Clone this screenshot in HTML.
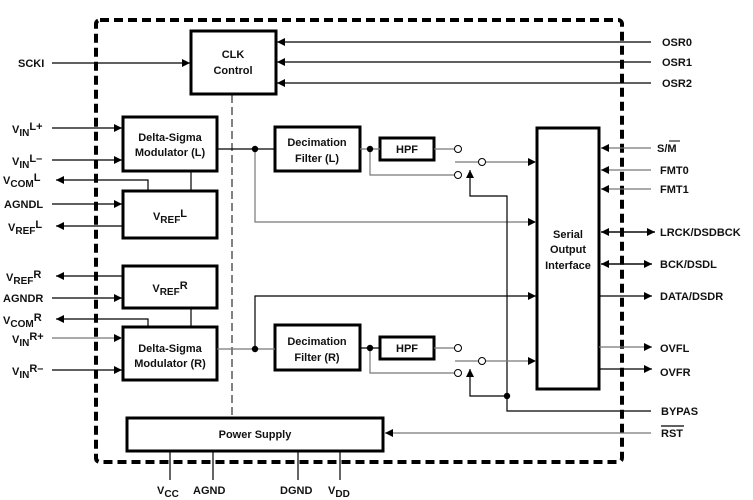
<!DOCTYPE html>
<html><head><meta charset="utf-8"><style>
html,body{margin:0;padding:0;background:#fff}
svg{display:block}
text{font-family:"Liberation Sans",Arial,sans-serif;font-weight:bold;font-size:11px;fill:#111}
</style></head><body>
<svg width="753" height="500" viewBox="0 0 753 500" xmlns="http://www.w3.org/2000/svg">
<defs>
<marker id="a" viewBox="0 0 10 10" refX="10" refY="5" markerWidth="8" markerHeight="8" orient="auto" markerUnits="userSpaceOnUse"><path d="M0,0L10,5L0,10z" fill="#000"/></marker>
</defs>
<rect x="96" y="20" width="526" height="442" rx="4" fill="none" stroke="#000" stroke-width="4" stroke-dasharray="9,5"/>
<line x1="232" y1="95" x2="232" y2="418" stroke="#000" stroke-width="1" stroke-dasharray="8,4"/>
<g fill="#fff" stroke="#000" stroke-width="3">
<rect x="191" y="31" width="85" height="63"/>
<rect x="123" y="117" width="94" height="54"/>
<rect x="123" y="191" width="94" height="47"/>
<rect x="123" y="266" width="94" height="42"/>
<rect x="123" y="327" width="94" height="53"/>
<rect x="275" y="127" width="85" height="44"/>
<rect x="275" y="325" width="85" height="45"/>
<rect x="380" y="138" width="54" height="22"/>
<rect x="380" y="337" width="54" height="22"/>
<rect x="537" y="128" width="62" height="261"/>
<rect x="127" y="418" width="256" height="33"/>
</g>
<g text-anchor="middle">
<text x="233" y="58">CLK</text><text x="233" y="74">Control</text>
<text x="170" y="141">Delta-Sigma</text><text x="170" y="156">Modulator (L)</text>
<text x="170" y="352">Delta-Sigma</text><text x="170" y="367">Modulator (R)</text>
<text x="170" y="220" font-size="12">V<tspan font-size="10" dy="3">REF</tspan><tspan dy="-6">L</tspan></text>
<text x="170" y="292" font-size="12">V<tspan font-size="10" dy="3">REF</tspan><tspan dy="-6">R</tspan></text>
<text x="317" y="146">Decimation</text><text x="317" y="162">Filter (L)</text>
<text x="317" y="345">Decimation</text><text x="317" y="361">Filter (R)</text>
<text x="407" y="153">HPF</text><text x="407" y="352">HPF</text>
<text x="568" y="238">Serial</text><text x="568" y="253">Output</text><text x="568" y="269">Interface</text>
<text x="255" y="438">Power Supply</text>
</g>
<g stroke="#000" stroke-width="1.2" fill="none">
<line x1="52" y1="63" x2="190" y2="63" marker-end="url(#a)"/>
<line x1="52" y1="128" x2="122" y2="128" marker-end="url(#a)"/>
<line x1="52" y1="160" x2="122" y2="160" marker-end="url(#a)"/>
<polyline points="148,191 148,180 56,180" marker-end="url(#a)"/>
<line x1="52" y1="204" x2="122" y2="204" marker-end="url(#a)"/>
<line x1="122" y1="226" x2="56" y2="226" marker-end="url(#a)"/>
<line x1="122" y1="276" x2="56" y2="276" marker-end="url(#a)"/>
<line x1="52" y1="298" x2="122" y2="298" marker-end="url(#a)"/>
<polyline points="148,327 148,319 56,319" marker-end="url(#a)"/>
<line x1="52" y1="338" x2="122" y2="338" stroke="#777" marker-end="url(#a)"/>
<line x1="52" y1="370" x2="122" y2="370" marker-end="url(#a)"/>
<line x1="191" y1="171" x2="191" y2="191"/>
<line x1="191" y1="308" x2="191" y2="327"/>
<line x1="651" y1="42" x2="277" y2="42" marker-end="url(#a)"/>
<line x1="651" y1="62" x2="277" y2="62" marker-end="url(#a)"/>
<line x1="651" y1="83" x2="277" y2="83" marker-end="url(#a)"/>
<line x1="217" y1="149" x2="275" y2="149"/>
<polyline points="255,149 255,222 536,222" stroke="#777" marker-end="url(#a)"/>
<line x1="360" y1="149" x2="380" y2="149" stroke="#777"/>
<polyline points="370,149 370,175 455,175" stroke="#777"/>
<line x1="434" y1="149" x2="455" y2="149" stroke="#777"/>
<line x1="455" y1="162" x2="479" y2="162" stroke="#777"/>
<line x1="485" y1="162" x2="536" y2="162" stroke="#777" marker-end="url(#a)"/>
<polyline points="651,411 507,411 507,196 470,196 470,170" marker-end="url(#a)"/>
<line x1="217" y1="349" x2="275" y2="349" stroke="#777"/>
<polyline points="255,349 255,296 536,296" marker-end="url(#a)"/>
<line x1="360" y1="348" x2="380" y2="348"/>
<polyline points="370,348 370,373 455,373" stroke="#777"/>
<line x1="434" y1="348" x2="455" y2="348" stroke="#777"/>
<line x1="455" y1="361" x2="479" y2="361" stroke="#777"/>
<line x1="485" y1="361" x2="536" y2="361" stroke="#777" marker-end="url(#a)"/>
<polyline points="507,396 470,396 470,369" marker-end="url(#a)"/>
<line x1="651" y1="148" x2="601" y2="148" stroke="#777" marker-end="url(#a)"/>
<line x1="651" y1="170" x2="601" y2="170" stroke="#777" marker-end="url(#a)"/>
<line x1="651" y1="189" x2="601" y2="189" stroke="#777" marker-end="url(#a)"/>
<line x1="601" y1="232" x2="655" y2="232" marker-end="url(#a)"/>
<line x1="655" y1="232" x2="601" y2="232" marker-end="url(#a)"/>
<line x1="601" y1="264" x2="652" y2="264" marker-end="url(#a)"/>
<line x1="652" y1="264" x2="601" y2="264" marker-end="url(#a)"/>
<line x1="599" y1="296" x2="652" y2="296" marker-end="url(#a)"/>
<line x1="599" y1="347" x2="652" y2="347" stroke="#777" marker-end="url(#a)"/>
<line x1="599" y1="369" x2="652" y2="369" marker-end="url(#a)"/>
<line x1="651" y1="433" x2="385" y2="433" stroke="#777" marker-end="url(#a)"/>
<line x1="170" y1="451" x2="170" y2="480"/>
<line x1="213" y1="451" x2="213" y2="480"/>
<line x1="298" y1="451" x2="298" y2="480"/>
<line x1="340" y1="451" x2="340" y2="480"/>
</g>
<g fill="#000">
<circle cx="255" cy="149" r="3.2"/><circle cx="370" cy="149" r="3.2"/>
<circle cx="255" cy="349" r="3.2"/><circle cx="370" cy="348" r="3.2"/>
<circle cx="507" cy="396" r="3.2"/>
</g>
<g fill="#fff" stroke="#000" stroke-width="1">
<circle cx="458" cy="149" r="3.5"/><circle cx="482" cy="162" r="3.5"/><circle cx="458" cy="175" r="3.5"/>
<circle cx="458" cy="348" r="3.5"/><circle cx="482" cy="361" r="3.5"/><circle cx="458" cy="373" r="3.5"/>
</g>
<g>
<text x="18" y="67">SCKI</text>
<text x="12" y="133" font-size="12">V<tspan font-size="10" dy="3">IN</tspan><tspan dy="-6">L+</tspan></text>
<text x="12" y="165" font-size="12">V<tspan font-size="10" dy="3">IN</tspan><tspan dy="-6">L–</tspan></text>
<text x="3" y="184" font-size="12">V<tspan font-size="10" dy="3">COM</tspan><tspan dy="-6">L</tspan></text>
<text x="4" y="208">AGNDL</text>
<text x="8" y="231" font-size="12">V<tspan font-size="10" dy="3">REF</tspan><tspan dy="-6">L</tspan></text>
<text x="6" y="281" font-size="12">V<tspan font-size="10" dy="3">REF</tspan><tspan dy="-6">R</tspan></text>
<text x="3" y="302">AGNDR</text>
<text x="3" y="324" font-size="12">V<tspan font-size="10" dy="3">COM</tspan><tspan dy="-6">R</tspan></text>
<text x="12" y="343" font-size="12">V<tspan font-size="10" dy="3">IN</tspan><tspan dy="-6">R+</tspan></text>
<text x="12" y="375" font-size="12">V<tspan font-size="10" dy="3">IN</tspan><tspan dy="-6">R–</tspan></text>
<text x="662" y="46">OSR0</text><text x="662" y="66">OSR1</text><text x="662" y="87">OSR2</text>
<text x="657" y="152">S/M</text>
<line x1="669" y1="141" x2="680" y2="141" stroke="#000" stroke-width="1"/>
<text x="660" y="174">FMT0</text><text x="660" y="193">FMT1</text>
<text x="660" y="236">LRCK/DSDBCK</text>
<text x="660" y="268">BCK/DSDL</text>
<text x="660" y="300">DATA/DSDR</text>
<text x="660" y="352">OVFL</text><text x="660" y="376">OVFR</text>
<text x="661" y="415">BYPAS</text>
<text x="661" y="437">RST</text>
<line x1="661" y1="426" x2="684" y2="426" stroke="#000" stroke-width="1.2"/>
<text x="157" y="494" font-size="12">V<tspan font-size="10" dy="3">CC</tspan></text>
<text x="193" y="494">AGND</text>
<text x="280" y="494">DGND</text>
<text x="328" y="494" font-size="12">V<tspan font-size="10" dy="3">DD</tspan></text>
</g>
</svg>
</body></html>
